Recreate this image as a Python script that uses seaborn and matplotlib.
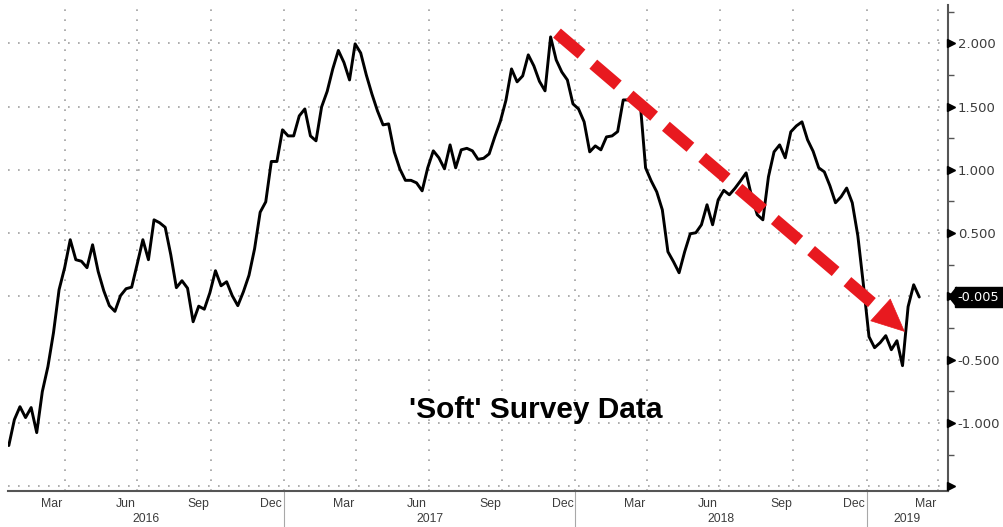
import matplotlib
matplotlib.use("Agg")

import matplotlib.dates as mdates
import matplotlib.pyplot as plt
import matplotlib.transforms as mtransforms
import numpy as np
import pandas as pd
import seaborn as sns
from matplotlib import ticker

# weekly readings of the 'soft' survey index, first week 2016-01-22
start_date = "2016-01-22"
values = [
    -1.178, -0.973, -0.871, -0.957, -0.878, -1.076, -0.752, -0.555, -0.287, 0.053,
    0.227, 0.448, 0.290, 0.278, 0.227, 0.408, 0.197, 0.045, -0.073, -0.118, 0.006, 0.061, 0.073,
    0.258, 0.448, 0.290, 0.605, 0.582, 0.546, 0.329, 0.069, 0.124, 0.065, -0.200, -0.077, -0.101, 0.029,
    0.203, 0.084, 0.116, 0.006, -0.073, 0.037, 0.167, 0.376, 0.665, 0.747, 1.066, 1.066, 1.316,
    1.268, 1.268, 1.426, 1.481, 1.268, 1.229, 1.497, 1.620, 1.797, 1.943, 1.848, 1.710, 1.995,
    1.923, 1.750, 1.600, 1.466, 1.355, 1.363, 1.142, 1.008, 0.917, 0.917, 0.897, 0.834, 1.016,
    1.150, 1.095, 1.008, 1.197, 1.016, 1.158, 1.170, 1.150, 1.083, 1.091, 1.126, 1.260, 1.383,
    1.549, 1.797, 1.695, 1.742, 1.908, 1.821, 1.699, 1.624, 2.050, 1.868, 1.773, 1.710, 1.521,
    1.481, 1.379, 1.142, 1.189, 1.158, 1.260, 1.268, 1.302, 1.552, 1.552, 1.576, 1.552, 1.016,
    0.913, 0.826, 0.684, 0.353, 0.274, 0.187, 0.353, 0.495, 0.503, 0.566, 0.724, 0.566, 0.763,
    0.838, 0.803, 0.854, 0.913, 0.976, 0.787, 0.645, 0.605, 0.945, 1.142, 1.197, 1.095, 1.300,
    1.347, 1.379, 1.237, 1.146, 1.016, 0.984, 0.874, 0.740, 0.787, 0.856, 0.740, 0.479, 0.092,
    -0.318, -0.405, -0.365, -0.310, -0.421, -0.350, -0.547, -0.081, 0.092, -0.005,
]
dates = pd.date_range(start_date, periods=len(values), freq="7D")

y_ticks = [-1.5, -1.0, -0.5, 0.0, 0.5, 1.0, 1.5, 2.0]
y_labels = ["", "-1.000", "-0.500", "", "0.500", "1.000", "1.500", "2.000"]
month_names = {3: "Mar", 6: "Jun", 9: "Sep", 12: "Dec"}
years = [2016, 2017, 2018, 2019]

title_text = "'Soft' Survey Data"
# red trend arrow: start, head base, tip
arrow_dates = ["2017-12-09", "2019-01-19", "2019-02-18"]
arrow_values = [2.08, -0.11, -0.28]

red = "#e8191f"
axis_grey = "#555555"

sns.set_style("white")
plt.rcParams["font.family"] = ["DejaVu Sans"]

fig = plt.figure(figsize=(10.04, 5.27), dpi=100)
ax = fig.add_axes([8 / 1004, 36 / 527, 940 / 1004, 486 / 527])

df = pd.DataFrame({"date": dates, "value": values})
sns.lineplot(data=df, x="date", y="value", color="black", linewidth=2.1, ax=ax, zorder=3)

x_left, x_right = pd.Timestamp("2016-01-21"), pd.Timestamp("2019-04-13")
ax.set_xlim(x_left, x_right)
ax.set_ylim(-1.537, 2.302)
ax.set_xlabel("")
ax.set_ylabel("")

# y axis on the right, Bloomberg style
ax.yaxis.tick_right()
ax.set_yticks(y_ticks)
ax.set_yticklabels(y_labels)
ax.yaxis.set_minor_locator(ticker.MultipleLocator(0.25))
ax.tick_params(axis="y", which="major", length=0, pad=7, labelsize=9.5, labelcolor="#3c3c3c")
ax.tick_params(axis="y", which="minor", length=4, width=1, color=axis_grey, direction="out")

trans_y = mtransforms.blended_transform_factory(ax.transAxes, ax.transData)
ax.plot([1.0037] * len(y_ticks), y_ticks, linestyle="none", marker=">", ms=6,
        color="black", transform=trans_y, clip_on=False, zorder=5)

# x axis: quarter gridlines, monthly ticks
ax.xaxis.set_major_locator(mdates.MonthLocator(bymonth=[1, 4, 7, 10]))
ax.xaxis.set_minor_locator(mdates.MonthLocator())
ax.xaxis.set_major_formatter(ticker.NullFormatter())
ax.tick_params(axis="x", which="major", direction="inout", length=7, width=1, color=axis_grey)
ax.tick_params(axis="x", which="minor", direction="inout", length=5, width=1, color=axis_grey)

ax.grid(True, which="major", axis="both", color="#a0a0a0", linestyle=(0, (1, 5)), linewidth=1.2)

for side in ["top", "left"]:
    ax.spines[side].set_visible(False)
for side in ["right", "bottom"]:
    ax.spines[side].set_color(axis_grey)
    ax.spines[side].set_linewidth(1.5)

trans_x = mtransforms.blended_transform_factory(ax.transData, ax.transAxes)
label_font = dict(family="Liberation Sans", fontsize=8.8, color="#3c3c3c")

for d in pd.date_range("2016-03-01", "2019-03-01", freq="QS-MAR"):
    ax.text(mdates.date2num(d + pd.Timedelta(days=15)), -0.026, month_names[d.month],
            transform=trans_x, ha="center", va="center", **label_font)

x0, x1 = mdates.date2num(x_left), mdates.date2num(x_right)
for yr in years:
    a = max(mdates.date2num(pd.Timestamp(f"{yr}-01-01")), x0)
    b = min(mdates.date2num(pd.Timestamp(f"{yr + 1}-01-01")), x1)
    ax.text((a + b) / 2, -0.057, str(yr), transform=trans_x, ha="center", va="center", **label_font)
    if yr > years[0]:
        ax.plot([a, a], [0, -0.075], transform=trans_x, color="#a8a8a8", lw=0.8, clip_on=False)

# red dashed trend arrow
ad = [mdates.date2num(pd.Timestamp(d)) for d in arrow_dates]
ax.plot(ad[:2], arrow_values[:2], color=red, lw=8.6, dashes=(2.7, 1.3),
        solid_capstyle="butt", dash_capstyle="butt", zorder=6)
ax.annotate("", xy=(ad[2], arrow_values[2]), xytext=(ad[1], arrow_values[1]),
            arrowprops=dict(arrowstyle="-|>,head_length=2.3,head_width=1.05", mutation_scale=10,
                            color=red, lw=0.5, shrinkA=0, shrinkB=0), zorder=6)

ax.text(0.561, 0.167, title_text, transform=ax.transAxes, ha="center", va="center",
        fontsize=21.5, fontweight="bold", family="Liberation Sans", color="black")

# last value tag
last = values[-1]
ax.plot([1.0], [last], linestyle="none", marker=[(0, 0), (0.8, 1), (0.8, -1)], ms=14.5,
        color="black", transform=trans_y, clip_on=False, zorder=7)
ax.text(1.0105, last, f"{last:.3f}", transform=trans_y, color="white", fontsize=9.3,
        ha="left", va="center", clip_on=False, zorder=8,
        bbox=dict(boxstyle="square,pad=0.25", fc="black", ec="black"))

fig.savefig("out.png", dpi=100)
